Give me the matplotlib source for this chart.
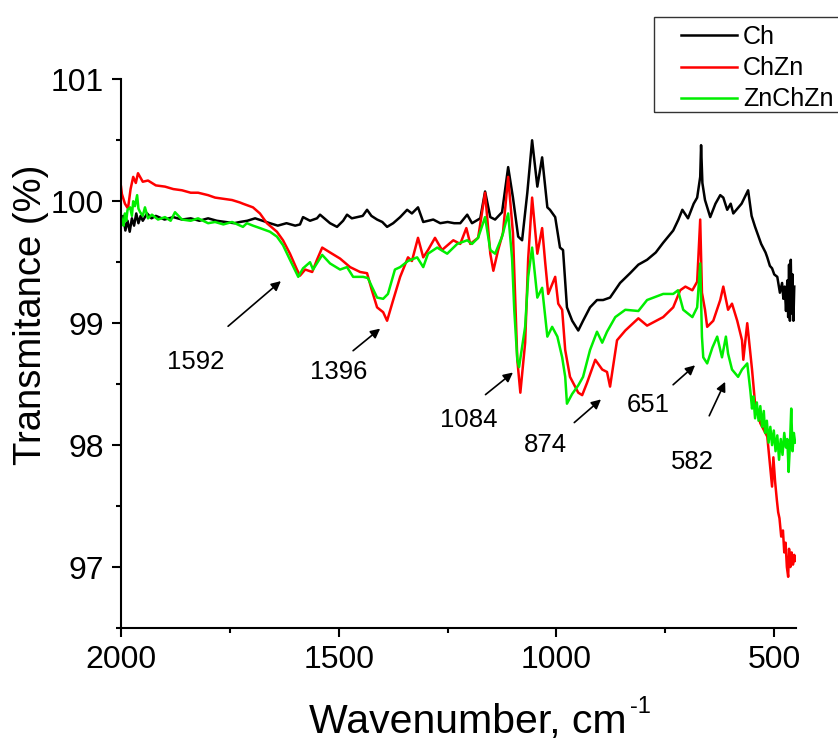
#ftir_spectra.py

#FTIR transmittance of Ch, ChZn and ZnChZn, 2000-450 cm-1

import matplotlib
matplotlib.use('Agg')
import matplotlib.pyplot as plt
from matplotlib.patches import Rectangle
from matplotlib.ticker import MultipleLocator

plt.rcParams['font.family'] = ['Liberation Sans', 'DejaVu Sans']

#values
ch_wn = [2000, 1995, 1990, 1985, 1980, 1975, 1970, 1965, 1960, 1955, 1950, 1940, 1930, 1920,
         1900, 1880, 1860, 1840, 1820, 1800, 1780, 1760, 1740, 1727, 1710, 1692, 1675, 1658,
         1640, 1620, 1600, 1589, 1582, 1566, 1550, 1543, 1530, 1520, 1504, 1490, 1481, 1470,
         1458, 1445, 1435, 1425, 1412, 1400, 1389, 1375, 1359, 1343, 1332, 1318, 1306, 1295,
         1283, 1267, 1250, 1235, 1221, 1205, 1194, 1175, 1164, 1152, 1141, 1125, 1111, 1100,
         1088, 1079, 1067, 1056, 1044, 1033, 1021, 1015, 1003, 992, 985, 976, 964, 950, 939,
         923, 907, 893, 877, 854, 831, 812, 792, 772, 755, 732, 720, 711, 698, 685, 677, 670,
         668, 665, 659, 647, 635, 624, 617, 608, 600, 594, 575, 560, 552, 544, 530, 520, 516,
         510, 505, 500, 493, 487, 482, 479, 476, 473, 470, 468, 466, 464, 462, 460, 458, 456,
         454]
ch_t = [99.80, 99.88, 99.76, 99.84, 99.75, 99.86, 99.80, 99.90, 99.82, 99.88, 99.84, 99.90,
        99.86, 99.88, 99.85, 99.87, 99.85, 99.86, 99.84, 99.86, 99.84, 99.83, 99.82, 99.83,
        99.84, 99.86, 99.84, 99.82, 99.80, 99.82, 99.80, 99.81, 99.87, 99.84, 99.86, 99.89,
        99.85, 99.82, 99.79, 99.84, 99.89, 99.86, 99.87, 99.88, 99.93, 99.88, 99.85, 99.83,
        99.79, 99.82, 99.87, 99.93, 99.90, 99.95, 99.83, 99.84, 99.85, 99.82, 99.83, 99.82,
        99.82, 99.89, 99.82, 99.86, 100.08, 99.87, 99.85, 99.91, 100.28, 100.03, 99.71, 99.68,
        100.07, 100.50, 100.12, 100.36, 99.95, 99.93, 99.87, 99.62, 99.60, 99.13, 99.02, 98.94,
        99.02, 99.13, 99.19, 99.19, 99.21, 99.33, 99.41, 99.48, 99.52, 99.58, 99.66, 99.76,
        99.85, 99.93, 99.86, 99.98, 100.03, 100.20, 100.46, 100.15, 100.01, 99.87, 99.98,
        100.05, 100.03, 99.93, 99.98, 99.90, 99.98, 100.09, 99.88, 99.79, 99.65, 99.58, 99.54,
        99.47, 99.45, 99.40, 99.38, 99.25, 99.33, 99.20, 99.30, 99.10, 99.35, 99.05, 99.48,
        99.02, 99.52, 99.08, 99.40, 99.02, 99.30]

chzn_wn = [2000, 1998, 1991, 1984, 1978, 1972, 1966, 1961, 1950, 1938, 1920, 1899, 1880, 1860,
           1840, 1823, 1800, 1784, 1765, 1745, 1727, 1720, 1697, 1681, 1665, 1642, 1628, 1612,
           1596, 1589, 1577, 1561, 1550, 1538, 1520, 1497, 1474, 1451, 1435, 1424, 1412, 1405,
           1398, 1389, 1375, 1359, 1341, 1332, 1318, 1306, 1295, 1279, 1263, 1237, 1221, 1207,
           1198, 1180, 1164, 1152, 1145, 1134, 1123, 1111, 1100, 1090, 1083, 1072, 1065, 1056,
           1044, 1033, 1026, 1019, 1003, 996, 987, 980, 969, 950, 941, 930, 911, 895, 884, 877,
           861, 842, 812, 792, 755, 732, 716, 704, 688, 677, 670, 666, 659, 654, 640, 624, 617,
           606, 597, 585, 574, 571, 562, 551, 544, 532, 516, 505, 502, 498, 494, 491, 488, 484,
           480, 477, 474, 471, 468, 466, 463, 460, 457, 454, 452]
chzn_t = [100.12, 100.06, 99.98, 99.94, 100.10, 100.20, 100.15, 100.23, 100.16, 100.17,
          100.13, 100.12, 100.10, 100.09, 100.07, 100.07, 100.05, 100.03, 100.02, 100.01,
          99.99, 99.98, 99.95, 99.90, 99.82, 99.75, 99.68, 99.57, 99.44, 99.39, 99.44, 99.42,
          99.52, 99.62, 99.58, 99.53, 99.46, 99.42, 99.41, 99.27, 99.13, 99.11, 99.09, 99.02,
          99.19, 99.38, 99.54, 99.51, 99.70, 99.54, 99.60, 99.70, 99.60, 99.68, 99.65, 99.78,
          99.65, 99.70, 100.07, 99.57, 99.43, 99.60, 99.74, 100.20, 99.74, 98.70, 98.43, 98.84,
          99.53, 100.03, 99.57, 99.78, 99.50, 99.24, 99.38, 99.16, 99.11, 98.78, 98.56, 98.43,
          98.41, 98.51, 98.70, 98.62, 98.60, 98.48, 98.86, 98.94, 99.04, 98.98, 99.05, 99.13,
          99.27, 99.30, 99.27, 99.34, 99.85, 99.25, 99.11, 98.97, 99.02, 99.19, 99.30, 99.11,
          99.16, 99.02, 98.86, 98.70, 99.00, 98.62, 98.34, 98.18, 98.07, 97.66, 97.90, 97.70,
          97.55, 97.45, 97.40, 97.25, 97.30, 97.12, 97.20, 97.00, 96.92, 97.15, 97.00, 97.12,
          97.02, 97.10, 97.05]

znchzn_wn = [2000, 1998, 1994, 1991, 1988, 1985, 1979, 1975, 1972, 1968, 1963, 1960, 1956,
             1950, 1945, 1938, 1929, 1915, 1899, 1886, 1876, 1860, 1840, 1823, 1800, 1784,
             1765, 1745, 1720, 1711, 1697, 1681, 1658, 1642, 1628, 1612, 1593, 1582, 1566,
             1559, 1538, 1520, 1497, 1481, 1467, 1444, 1433, 1424, 1412, 1398, 1387, 1371,
             1359, 1341, 1320, 1306, 1295, 1274, 1251, 1228, 1205, 1194, 1180, 1164, 1152,
             1141, 1125, 1111, 1102, 1097, 1090, 1086, 1072, 1065, 1056, 1044, 1033, 1021,
             1010, 998, 987, 980, 976, 964, 950, 939, 923, 907, 895, 884, 865, 842, 812, 792,
             755, 732, 721, 709, 688, 677, 670, 666, 663, 654, 642, 631, 620, 611, 606, 597,
             583, 574, 562, 555, 551, 548, 544, 540, 536, 532, 528, 524, 521, 517, 513, 509,
             505, 501, 497, 493, 489, 485, 481, 477, 473, 470, 467, 464, 461, 458, 455, 452]
znchzn_t = [99.88, 99.85, 99.80, 99.90, 99.84, 99.93, 99.95, 99.88, 100.00, 99.96, 100.05,
            99.94, 99.91, 99.88, 99.95, 99.86, 99.89, 99.85, 99.87, 99.84, 99.91, 99.85, 99.84,
            99.86, 99.82, 99.83, 99.81, 99.83, 99.79, 99.82, 99.80, 99.78, 99.75, 99.71, 99.64,
            99.52, 99.38, 99.45, 99.50, 99.44, 99.56, 99.49, 99.44, 99.46, 99.38, 99.38, 99.37,
            99.30, 99.21, 99.20, 99.24, 99.44, 99.46, 99.51, 99.54, 99.46, 99.57, 99.62, 99.57,
            99.65, 99.68, 99.65, 99.70, 99.87, 99.60, 99.57, 99.71, 99.90, 99.53, 99.11, 98.70,
            98.64, 98.97, 99.38, 99.62, 99.21, 99.29, 98.89, 98.97, 98.89, 98.72, 98.56, 98.34,
            98.42, 98.49, 98.56, 98.78, 98.93, 98.84, 98.93, 99.05, 99.11, 99.10, 99.19, 99.24,
            99.24, 99.27, 99.11, 99.05, 99.13, 99.49, 98.89, 98.72, 98.67, 98.80, 98.89, 98.72,
            98.89, 98.75, 98.62, 98.56, 98.62, 98.67, 98.45, 98.30, 98.40, 98.22, 98.35, 98.20,
            98.32, 98.15, 98.28, 98.10, 98.20, 98.02, 98.15, 98.00, 98.12, 97.95, 98.08, 97.88,
            98.05, 97.92, 98.10, 97.98, 98.05, 97.78, 98.00, 98.30, 97.95, 98.10, 98.02]

labels = ['Ch', 'ChZn', 'ZnChZn']
colors = ['black', '#ff0000', '#00ee00']

#peak labels: (text, text position, arrow tip, arrow tail) in data units
peaks = [('1592', (1829, 98.68), (1628, 99.36), (1759, 98.96)),
         ('1396', (1500, 98.60), (1400, 98.97), (1472, 98.76)),
         ('1084', (1202, 98.21), (1095, 98.61), (1168, 98.40)),
         ('874', (1025, 98.00), (893, 98.39), (964, 98.17)),
         ('651', (790, 98.33), (677, 98.67), (737, 98.48)),
         ('582', (687, 97.86), (610, 98.54), (652, 98.22))]

fig = plt.figure(figsize=(8.38, 7.42), dpi=100)
ax = fig.add_axes([0.1444, 0.1536, 0.8055, 0.7395])

series = [(ch_wn, ch_t), (chzn_wn, chzn_t), (znchzn_wn, znchzn_t)]
for (wn, t), lab, col in zip(series, labels, colors):
    ax.plot(wn, t, color=col, lw=1.8, label=lab)

for txt, pos, tip, tail in peaks:
    ax.text(pos[0], pos[1], txt, fontsize=18.5, ha='center', va='center')
    ax.annotate('', xy=tip, xytext=tail,
                arrowprops=dict(arrowstyle='-|>', color='black', lw=1.2, mutation_scale=14))

ax.set_xlim(2000, 450)
ax.set_ylim(96.5, 101)
ax.set_xticks([2000, 1500, 1000, 500])
ax.xaxis.set_minor_locator(MultipleLocator(250))
ax.set_yticks([97, 98, 99, 100, 101])
ax.yaxis.set_minor_locator(MultipleLocator(0.5))
ax.spines['top'].set_visible(False)
ax.spines['right'].set_visible(False)
ax.spines['left'].set_linewidth(1.5)
ax.spines['bottom'].set_linewidth(1.5)
ax.tick_params(which='major', direction='out', length=6.5, width=1.5, labelsize=23, pad=6)
ax.tick_params(which='minor', direction='out', length=3.3, width=1.5)

fig.text(0.0375, 0.5755, 'Transmitance (%)', rotation=90, fontsize=27.5,
         ha='center', va='center')
fig.text(0.558, 0.0128, 'Wavenumber, cm', fontsize=29.5, ha='center', va='baseline')
fig.text(0.7518, 0.039, '-1', fontsize=17, ha='left', va='baseline')

#legend box runs off the right edge like the original
fig.patches.append(Rectangle((654 / 838, 1 - 112 / 742), 0.3, 95 / 742,
                             transform=fig.transFigure, fill=False, edgecolor='#333333', lw=1))
fig.legend(loc='upper left', bbox_to_anchor=(673 / 838, 1 - 17 / 742), frameon=False,
           fontsize=18, handlelength=2.25, handletextpad=0.22, labelspacing=0.29,
           borderpad=0.32, borderaxespad=0)

fig.savefig('out.png', dpi=100)
